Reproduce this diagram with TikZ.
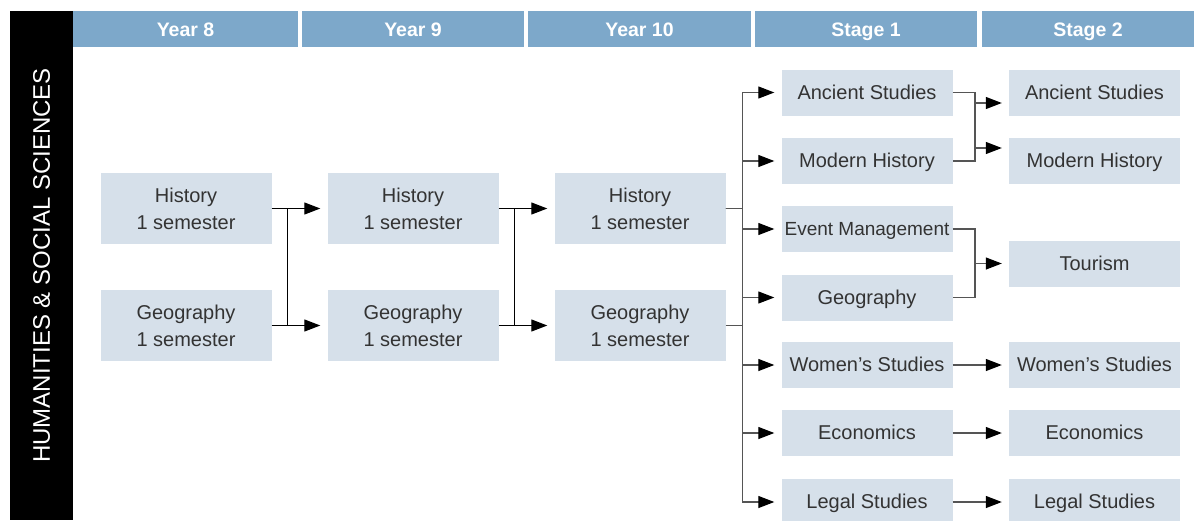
\documentclass[tikz,border=0pt]{standalone}
\usepackage{fontspec}
\setmainfont{Liberation Sans}
\usetikzlibrary{arrows.meta}
\definecolor{headblue}{HTML}{7DA8CA}
\definecolor{boxblue}{HTML}{D6E0EA}
\definecolor{inkgrey}{HTML}{333333}
\definecolor{wiregrey}{HTML}{555555}

\begin{document}
\begin{tikzpicture}[x=1pt,y=-1pt,
  header/.style={fill=headblue,text=white,font=\fontsize{19.5}{23}\selectfont\bfseries,
    minimum height=36,inner sep=0,text height=19pt,text depth=4pt},
  course/.style={fill=boxblue,text=inkgrey,font=\fontsize{20}{27}\selectfont,align=center,minimum width=171,inner sep=0},
  year/.style={course,minimum height=71},
  stage/.style={course,minimum height=46,text height=17pt,text depth=4pt},
  wire/.style={line width=1.2pt},
  flow/.style={wire,-{Triangle[length=16pt,width=12pt,color=black]},shorten >=7pt}]

  \useasboundingbox (0,0) rectangle (1194,520);

  % side bar and headers

  \node[fill=black,text=white,rotate=90,minimum width=509,minimum height=63,inner sep=0,
        font=\fontsize{24}{28}\selectfont] (side) at (41.5,265.5) {HUMANITIES \& SOCIAL SCIENCES};

  \node[header,minimum width=225] (y8)  at (185.5,29) {Year 8};
  \node[header,minimum width=222] (y9)  at (413,29)   {Year 9};
  \node[header,minimum width=223] (y10) at (639.5,29) {Year 10};
  \node[header,minimum width=222] (s1)  at (866,29)   {Stage 1};
  \node[header,minimum width=212] (s2)  at (1088,29)  {Stage 2};

  % Year 8 to Year 10

  \node[year] (h8)  at (186,208.5) {History\\1 semester};
  \node[year] (g8)  at (186,325.5) {Geography\\1 semester};
  \node[year] (h9)  at (413,208.5) {History\\1 semester};
  \node[year] (g9)  at (413,325.5) {Geography\\1 semester};
  \node[year] (h10) at (640,208.5) {History\\1 semester};
  \node[year] (g10) at (640,325.5) {Geography\\1 semester};

  \draw[flow] (h8.east) -- ++(16,0) |- (g9.west);
  \draw[flow] (g8.east) -- ++(16,0) |- (h9.west);
  \draw[flow] (h9.east) -- ++(16,0) |- (g10.west);
  \draw[flow] (g9.east) -- ++(16,0) |- (h10.west);

  % Stage 1

  \node[stage] (anc1) at (867,92.5)  {Ancient Studies};
  \node[stage] (mod1) at (867,161)   {Modern History};
  \node[stage,font=\fontsize{19}{27}\selectfont] (evt1) at (867,229) {Event Management};
  \node[stage] (geo1) at (867,297.5) {Geography};
  \node[stage] (wom1) at (867,365)   {Women’s Studies};
  \node[stage] (eco1) at (867,433)   {Economics};
  \node[stage] (leg1) at (867,502)   {Legal Studies};

  \foreach \s in {anc1,mod1,evt1,geo1,wom1,eco1,leg1}
    \draw[flow,wiregrey] (h10.east) -- ++(17,0) |- (\s.west);
  \draw[wire,wiregrey] (g10.east) -- ++(17,0);

  % Stage 2

  \node[stage] (anc2) at (1094.5,92.5) {Ancient Studies};
  \node[stage] (mod2) at (1094.5,161)  {Modern History};
  \node[stage] (tour) at (1094.5,263.5) {Tourism};
  \node[stage] (wom2) at (1094.5,365)  {Women’s Studies};
  \node[stage] (eco2) at (1094.5,433)  {Economics};
  \node[stage] (leg2) at (1094.5,502)  {Legal Studies};

  \coordinate (aj) at (975,0);
  \draw[wire,wiregrey] (anc1.east) -| (aj |- mod1.east) -- (mod1.east);
  \draw[flow,wiregrey] ([yshift=-10.5pt]anc2.west -| aj) -- ([yshift=-10.5pt]anc2.west);
  \draw[flow,wiregrey] ([yshift=13pt]mod2.west -| aj) -- ([yshift=13pt]mod2.west);

  \coordinate (tj) at (975,263.5);
  \draw[wire,wiregrey] (evt1.east) -| (tj) |- (geo1.east);
  \draw[flow,wiregrey] (tj) -- (tour);

  \draw[flow,wiregrey] (wom1) -- (wom2);
  \draw[flow,wiregrey] (eco1) -- (eco2);
  \draw[flow,wiregrey] (leg1) -- (leg2);
\end{tikzpicture}
\end{document}
